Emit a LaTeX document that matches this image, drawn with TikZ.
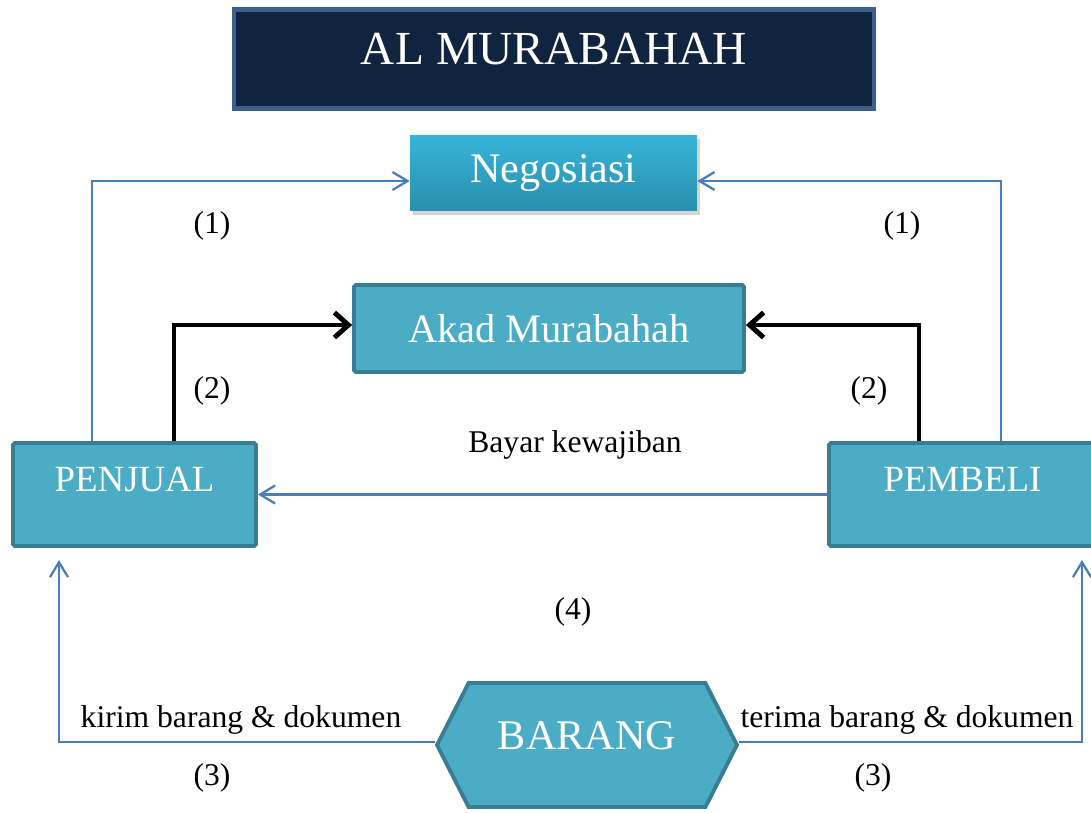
\documentclass[tikz,border=0pt]{standalone}
\usepackage{fontspec}
\setmainfont{Liberation Serif}
\usepackage{xcolor}
\usepackage{tikz}
\usetikzlibrary{arrows.meta, shapes.symbols, shadows}
\definecolor{biru}{RGB}{75,172,198}
\definecolor{tepi}{RGB}{56,125,145}
\definecolor{judulbg}{RGB}{17,36,63}
\definecolor{judultepi}{RGB}{60,95,140}
\definecolor{garisbiru}{RGB}{74,126,187}
\definecolor{negoatas}{RGB}{54,181,217}
\definecolor{negobawah}{RGB}{43,142,172}

\begin{document}
\begin{tikzpicture}[x=0.02cm, y=-0.02cm,
  kotak/.style={draw=tepi, line width=2.2pt, fill=biru, text=white, rounded corners=1pt},
  ket/.style={font=\fontsize{18}{22}\selectfont, inner sep=1pt},
  ujung/.style={-{Straight Barb[length=0.3cm, width=0.36cm]}},
  garis/.style={draw=garisbiru, line width=1.3pt},
  tebal/.style={draw=black, line width=2.8pt, -{Straight Barb[length=0.28cm, width=0.5cm]}}]
\useasboundingbox (0,0) rectangle (1091,812);
\node[draw=judultepi, line width=2.3pt, fill=judulbg, text=white, minimum width=12.8cm, minimum height=1.98cm,
  text height=0.66cm, text depth=0.46cm, font=\fontsize{27}{32}\selectfont] (judul) at (554,59) {AL MURABAHAH};
\node[top color=negoatas, bottom color=negobawah, text=white, drop shadow={opacity=0.35, shadow xshift=0.06cm, shadow yshift=-0.08cm},
  minimum width=5.74cm, minimum height=1.52cm, font=\fontsize{24}{29}\selectfont] (negosiasi) at (553.5,173) {Negosiasi};
\node[kotak, minimum width=7.8cm, minimum height=1.74cm, font=\fontsize{23}{28}\selectfont] (akad) at (549,328.5) {Akad Murabahah};
\node[kotak, minimum width=4.86cm, minimum height=2.06cm, text height=0.5cm, text depth=0.64cm,
  font=\fontsize{21}{25}\selectfont] (penjual) at (134.5,494.5) {PENJUAL};
\node[kotak, minimum width=5.34cm, minimum height=2.06cm, text height=0.5cm, text depth=0.64cm,
  font=\fontsize{21}{25}\selectfont] (pembeli) at (962.5,494.5) {PEMBELI};
\node[kotak, rounded corners=0pt, shape=signal, signal to=west and east, signal pointer angle=126, minimum width=6cm,
  minimum height=2.48cm, text height=0.58cm, text depth=0.42cm, font=\fontsize{24}{29}\selectfont] (barang) at (587,745) {BARANG};

\draw[garis, ujung] (penjual.north -| 92,0) |- ([yshift=-0.16cm]negosiasi.west);
\draw[garis, ujung] (pembeli.north -| 1001,0) |- ([yshift=-0.16cm]negosiasi.east);
\draw[tebal] (penjual.north -| 174,0) |- ([yshift=0.07cm]akad.west);
\draw[tebal] (pembeli.north -| 919,0) |- ([yshift=0.07cm]akad.east);
\draw[garis, ujung] (pembeli.west) -- (penjual.east);
\draw[garis, ujung, {Straight Barb[length=0.3cm, width=0.36cm]}-, shorten <=0.24cm] (penjual.south -| 59,0) |- ([yshift=0.06cm]barang.west);
\draw[garis, ujung, {Straight Barb[length=0.3cm, width=0.36cm]}-, shorten <=0.24cm] (pembeli.south -| 1082,0) |- ([yshift=0.06cm]barang.east);

\node[ket] (n1kiri) at (212,226) {(1)};
\node[ket] (n1kanan) at (902,226) {(1)};
\node[ket] (n2kiri) at (212,391) {(2)};
\node[ket] (n2kanan) at (869,391) {(2)};
\node[ket] (bayar) at (575,445) {Bayar kewajiban};
\node[ket] (n4) at (573,612) {(4)};
\node[ket] (kirim) at (241,720) {kirim barang \& dokumen};
\node[ket] (terima) at (907,720) {terima barang \& dokumen};
\node[ket] (n3kiri) at (212,778) {(3)};
\node[ket] (n3kanan) at (873,778) {(3)};
\end{tikzpicture}
\end{document}
